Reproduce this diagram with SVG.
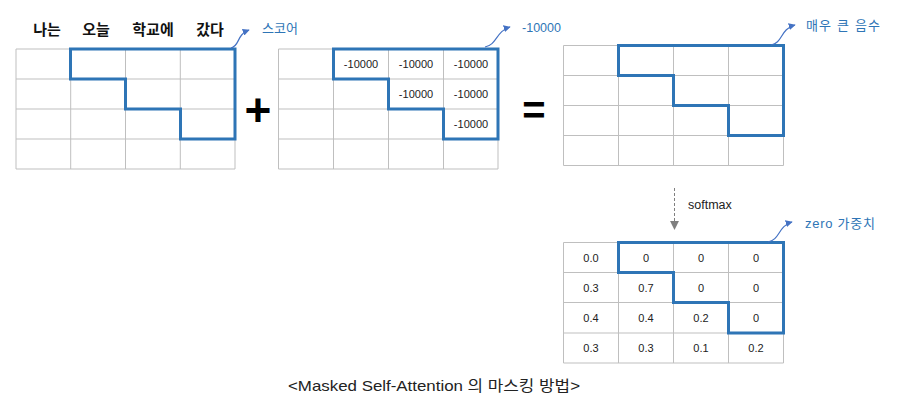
<svg xmlns="http://www.w3.org/2000/svg" width="897" height="406" viewBox="0 0 897 406">
<defs>
<style>
.grid{fill:none;stroke:#bfbfbf;stroke-width:1}
.mask{fill:none;stroke:#2e75b6;stroke-width:3;stroke-linejoin:miter}
.cell{font-family:"Liberation Sans","Noto Sans CJK KR",sans-serif;font-size:11px;fill:#222;text-anchor:middle;dominant-baseline:central}
.lbl{font-family:"Liberation Sans","Noto Sans CJK KR",sans-serif;font-size:13px;fill:#2e75b6;dominant-baseline:central}
.word{font-family:"Liberation Sans","Noto Sans CJK KR",sans-serif;font-size:15px;font-weight:bold;fill:#111;text-anchor:middle;dominant-baseline:central}
.op{font-family:"Liberation Sans",sans-serif;font-weight:bold;fill:#000;text-anchor:middle}
.callout{fill:none;stroke:#4472c4;stroke-width:1.2}
</style>
<marker id="ah" viewBox="0 0 10 10" refX="9" refY="5" markerWidth="7" markerHeight="7" orient="auto" markerUnits="userSpaceOnUse">
<path d="M0,0 L10,5 L0,10 z" fill="#4472c4"/>
</marker>
<marker id="ahg" viewBox="0 0 10 10" refX="9" refY="5" markerWidth="9" markerHeight="9" orient="auto" markerUnits="userSpaceOnUse">
<path d="M0,0 L10,5 L0,10 z" fill="#7f7f7f"/>
</marker>
</defs>
<rect width="897" height="406" fill="#fff"/>

<g id="words">
<text class="word" x="47" y="29">나는</text>
<text class="word" x="96" y="29">오늘</text>
<text class="word" x="153" y="29">학교에</text>
<text class="word" x="210" y="29">갔다</text>
</g>

<g id="score-matrix">
<path class="grid" d="M16,49H235M16,79H235M16,109H235M16,139H235M16,169H235M16,49V169M70.7,49V169M125.5,49V169M180.3,49V169M235,49V169"/>
<path class="mask" d="M70.5,49H235V139H180.5V109H125.5V79H70.5Z"/>
</g>

<g id="plus"><text class="op" x="258" y="126" font-size="46">+</text></g>

<g id="mask-matrix">
<path class="grid" d="M278.5,49H498M278.5,79H498M278.5,109H498M278.5,139H498M278.5,169H498M278.5,49V169M333.5,49V169M388.5,49V169M443.5,49V169M498,49V169"/>
<path class="mask" d="M333.5,49H498V139H443.5V109H388.5V79H333.5Z"/>
<text class="cell" x="361" y="64">-10000</text>
<text class="cell" x="416" y="64">-10000</text>
<text class="cell" x="471" y="64">-10000</text>
<text class="cell" x="416" y="94">-10000</text>
<text class="cell" x="471" y="94">-10000</text>
<text class="cell" x="471" y="124">-10000</text>
</g>

<g id="equals"><text class="op" x="534" y="124" font-size="40">=</text></g>

<g id="result-matrix">
<path class="grid" d="M563.5,45.5H783.5M563.5,75.5H783.5M563.5,105.5H783.5M563.5,135.5H783.5M563.5,165.5H783.5M563.5,45.5V165.5M618.5,45.5V165.5M673.5,45.5V165.5M728.5,45.5V165.5M783.5,45.5V165.5"/>
<path class="mask" d="M618.5,45.5H783.5V135.5H728.5V105.5H673.5V75.5H618.5Z"/>
</g>

<g id="softmax-matrix">
<path class="grid" d="M563.5,242.5H783.5M563.5,272.5H783.5M563.5,302.5H783.5M563.5,333H783.5M563.5,363H783.5M563.5,242.5V363M618.5,242.5V363M673.5,242.5V363M728.5,242.5V363M783.5,242.5V363"/>
<path class="mask" d="M618.5,242.5H783.5V333H728.5V302.5H673.5V272.5H618.5Z"/>
<text class="cell" x="591" y="257.5">0.0</text>
<text class="cell" x="646" y="257.5">0</text>
<text class="cell" x="701" y="257.5">0</text>
<text class="cell" x="756" y="257.5">0</text>
<text class="cell" x="591" y="287.5">0.3</text>
<text class="cell" x="646" y="287.5">0.7</text>
<text class="cell" x="701" y="287.5">0</text>
<text class="cell" x="756" y="287.5">0</text>
<text class="cell" x="591" y="318">0.4</text>
<text class="cell" x="646" y="318">0.4</text>
<text class="cell" x="701" y="318">0.2</text>
<text class="cell" x="756" y="318">0</text>
<text class="cell" x="591" y="348">0.3</text>
<text class="cell" x="646" y="348">0.3</text>
<text class="cell" x="701" y="348">0.1</text>
<text class="cell" x="756" y="348">0.2</text>
</g>

<g id="connectors">
<path class="callout" marker-end="url(#ah)" d="M231,48 C240,46 236,35 249,30"/>
<path class="callout" marker-end="url(#ah)" d="M485,47 C497,45 496,31 510,27"/>
<path class="callout" marker-end="url(#ah)" d="M771,45 C783,43 780,29 795,25"/>
<path class="callout" marker-end="url(#ah)" d="M768,242 C780,240 778,226 792,222"/>
<path fill="none" stroke="#7f7f7f" stroke-width="1" stroke-dasharray="3,2" marker-end="url(#ahg)" d="M674.5,188V229"/>
</g>

<g id="labels">
<text class="lbl" x="262" y="28">스코어</text>
<text class="lbl" x="522" y="27" textLength="39" lengthAdjust="spacingAndGlyphs">-10000</text>
<text class="lbl" x="806" y="25" textLength="74" lengthAdjust="spacing">매우 큰 음수</text>
<text class="lbl" x="805" y="223" textLength="70" lengthAdjust="spacing">zero 가중치</text>
<text x="688" y="205" font-family="Liberation Sans, sans-serif" font-size="12.5" fill="#222" dominant-baseline="central">softmax</text>
</g>

<g id="caption">
<text x="434" y="386" font-family="Liberation Sans, Noto Sans CJK KR, sans-serif" font-size="14.5" fill="#222" text-anchor="middle" dominant-baseline="central" textLength="292" lengthAdjust="spacingAndGlyphs">&lt;Masked Self-Attention 의 마스킹 방법&gt;</text>
</g>
</svg>
